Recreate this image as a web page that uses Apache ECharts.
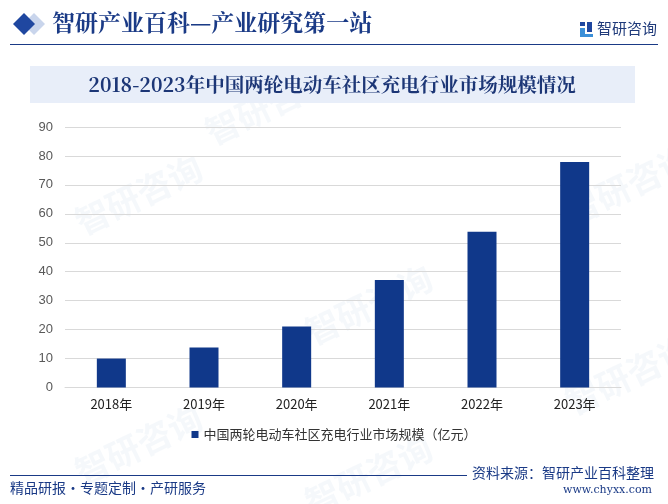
<!DOCTYPE html>
<html>
<head>
<meta charset="utf-8">
<script src="https://cdn.jsdelivr.net/npm/echarts@6/dist/echarts.min.js"></script>
<style>html,body{margin:0;padding:0;background:#fff}#c{width:668px;height:504px}</style>
</head>
<body>
<div id="c"></div>
<script>
const categories = ['2018年','2019年','2020年','2021年','2022年','2023年'];
const marketSize = [10, 13.8, 21.1, 37.1, 53.8, 77.9];
const yTicks = [0, 10, 20, 30, 40, 50, 60, 70, 80, 90];
const seriesName = '中国两轮电动车社区充电行业市场规模（亿元）';
const headerTitle = '智研产业百科—产业研究第一站';
const chartTitle = '2018-2023年中国两轮电动车社区充电行业市场规模情况';

const chart = echarts.init(document.getElementById('c'), null, {renderer: 'canvas'});
const navy = '#1a3a86';
const wm = [];
const wmPos = [[70,150],[300,260],[560,330],[70,400],[300,430],[560,140],[200,60]];
wmPos.forEach(p => {
  wm.push({type:'text', left:p[0], top:p[1], rotation:Math.PI/7, z:0,
    style:{text:'智研咨询', fill:'rgba(210,222,238,0.22)', font:'bold 34px "Noto Sans CJK SC"'}});
});
chart.setOption({
  animation: false,
  graphic: [
    ...wm,
    {type:'polygon', shape:{points:[[34,13],[45,24],[34,35],[23,24]]}, style:{fill:'#c9d5ec'}, z:1},
    {type:'polygon', shape:{points:[[24,13],[35,24],[24,35],[13,24]]}, style:{fill:'#1f47a0'}, z:2},
    {type:'text', left:52, top:11, style:{text:headerTitle, fill:navy, font:'bold 23px "Noto Serif CJK SC","Noto Sans CJK SC",serif'}},
    {type:'rect', shape:{x:580,y:22,width:5,height:4}, style:{fill:'#1f47a0'}},
    {type:'rect', shape:{x:580,y:28,width:5,height:9}, style:{fill:'#3b8fd8'}},
    {type:'rect', shape:{x:587,y:22,width:5,height:10}, style:{fill:'#1f47a0'}},
    {type:'rect', shape:{x:585,y:34,width:8,height:3}, style:{fill:'#3b8fd8'}},
    {type:'text', left:597, top:21, style:{text:'智研咨询', fill:'#1f3a7a', font:'15px "Noto Sans CJK SC"'}},
    {type:'line', shape:{x1:10,y1:44.5,x2:658,y2:44.5}, style:{stroke:navy, lineWidth:1.2}},
    {type:'rect', shape:{x:30,y:66,width:605,height:37}, style:{fill:'#e8eef9'}},
    {type:'text', x:332, y:85, style:{text:chartTitle, fill:'#1c3676', align:'center', verticalAlign:'middle', font:'bold 19.5px "Noto Serif CJK SC","Noto Sans CJK SC",serif'}},
    {type:'line', shape:{x1:10,y1:475.5,x2:467,y2:475.5}, style:{stroke:navy, lineWidth:1.2}},
    {type:'text', right:14, top:466, style:{text:'资料来源：智研产业百科整理', fill:navy, font:'14px "Noto Sans CJK SC"'}},
    {type:'text', right:16, top:485, style:{text:'www.chyxx.com', fill:navy, font:'11px "DejaVu Serif",serif'}},
    {type:'text', left:10, top:481, style:{text:'精品研报・专题定制・产研服务', fill:navy, font:'14px "Noto Sans CJK SC"'}}
  ],
  grid: {left:65, right:47, top:127, bottom:116.5, containLabel:false},
  legend: {
    bottom: 58, left:'center', itemWidth:7, itemHeight:7, icon:'rect', itemGap:5,
    textStyle:{color:'#333', fontSize:13, fontFamily:'"Noto Sans CJK SC"'},
    data:[seriesName]
  },
  xAxis: {
    type:'category', data:categories,
    axisLine:{show:true, lineStyle:{color:'#d9d9d9'}}, axisTick:{show:false},
    axisLabel:{color:'#222', fontSize:13, margin:10, fontFamily:'"Noto Sans CJK SC"'}
  },
  yAxis: {
    type:'value', min:yTicks[0], max:yTicks[yTicks.length-1], interval:10,
    axisLine:{show:false}, axisTick:{show:false},
    axisLabel:{color:'#595959', fontSize:13, margin:12, fontFamily:'Arial, "Liberation Sans"'},
    splitLine:{lineStyle:{color:'#d9d9d9'}}
  },
  series: [{
    name: seriesName, type:'bar', data: marketSize, barWidth:29,
    itemStyle:{color:'#10388a'}, z:3
  }]
});
</script>
</body>
</html>
